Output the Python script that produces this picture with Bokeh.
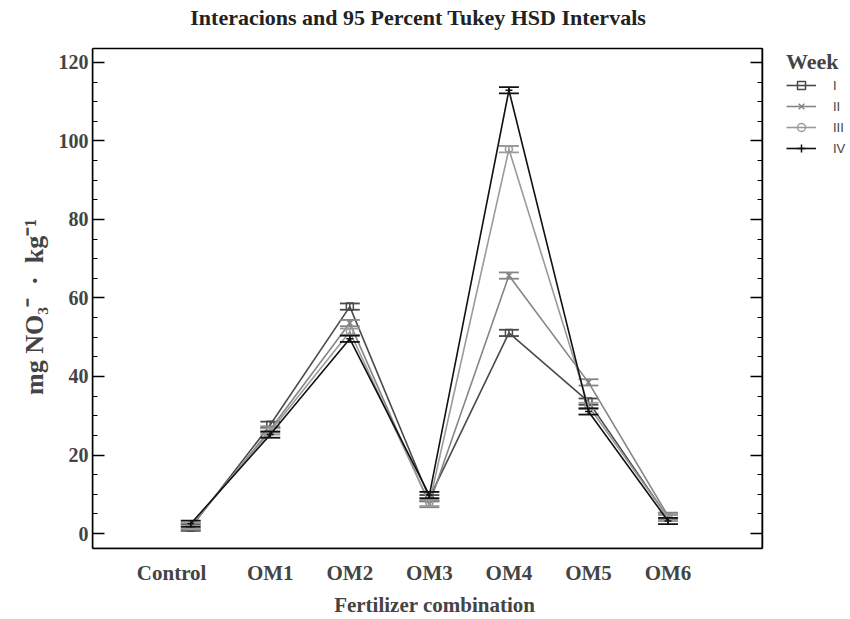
from bokeh.plotting import figure
from bokeh.models import (Range1d, LinearAxis, SingleIntervalTicker, FixedTicker,
                          ColumnDataSource, Legend, LegendItem, BoxAnnotation, Label)
from bokeh.embed import file_html
from bokeh.resources import INLINE

categories = ["Control", "OM1", "OM2", "OM3", "OM4", "OM5", "OM6"]
weeks = ["I", "II", "III", "IV"]
week_I = [1.5, 27.7, 57.8, 9.0, 51.1, 33.6, 4.0]
week_II = [1.8, 26.5, 53.6, 7.5, 65.7, 38.5, 4.5]
week_III = [2.0, 26.0, 51.4, 7.8, 97.9, 32.5, 4.0]
week_IV = [2.5, 25.2, 49.6, 9.8, 112.9, 31.1, 3.2]
half_interval = 0.8
y_ticks = [0, 20, 40, 60, 80, 100, 120]

series = [week_I, week_II, week_III, week_IV]
colors = ["#4a4a4a", "#858585", "#9a9a9a", "#111111"]
markers = ["square", "x", "circle", "cross"]

SERIF = "Liberation Serif"
SANS = "Liberation Sans"

X_LO, X_BOX, X_HI = -1.235, 7.185, 8.294
Y_LO, Y_BOX, Y_HI = -3.81, 123.56, 135.76
SP = "\u2002"

p = figure(width=850, height=619, output_backend="svg", toolbar_location=None,
           x_range=Range1d(X_LO, X_HI), y_range=Range1d(Y_LO, Y_HI),
           min_border_left=92, min_border_right=0, min_border_top=0, min_border_bottom=70)
p.grid.visible = False
p.outline_line_color = None
p.background_fill_color = "white"
p.border_fill_color = "white"

# plot box
p.add_layout(BoxAnnotation(left=X_LO, right=X_BOX, bottom=Y_LO, top=Y_BOX,
                           fill_color=None, fill_alpha=0, line_color="black",
                           line_alpha=1.0, line_width=1.5))

# title
p.add_layout(Label(x=2.86, y=131.4, text="Interacions and 95 Percent Tukey HSD Intervals",
                   text_font=SERIF, text_font_style="bold", text_font_size="22px",
                   text_align="center", text_baseline="middle", text_color="#222222"))

# x axis
xa = p.xaxis[0]
label_pos = [-0.24, 1, 2, 3, 4, 5, 6]
xa.ticker = FixedTicker(ticks=label_pos)
xa.major_label_overrides = {pos: name for pos, name in zip(label_pos, categories)}
xa.bounds = (X_LO, X_BOX)
xa.major_tick_in = 0
xa.major_tick_out = 0
xa.minor_tick_in = 0
xa.minor_tick_out = 0
xa.axis_line_color = "black"
xa.axis_line_width = 1.5
xa.major_label_text_font = SERIF
xa.major_label_text_font_style = "bold"
xa.major_label_text_font_size = "21px"
xa.major_label_standoff = 12
xa.axis_label = "Fertilizer combination" + SP * 7
xa.axis_label_text_font = SERIF
xa.axis_label_text_font_style = "bold"
xa.axis_label_text_font_size = "21px"
xa.axis_label_standoff = 5

# y axis
ya = p.yaxis[0]
ya.ticker = SingleIntervalTicker(interval=20, num_minor_ticks=4)
ya.bounds = (Y_LO, Y_BOX)
ya.major_tick_in = 12
ya.major_tick_out = 0
ya.minor_tick_in = 5
ya.minor_tick_out = 0
ya.axis_line_color = "black"
ya.axis_line_width = 1.5
ya.major_tick_line_width = 1.5
ya.major_label_text_font = SERIF
ya.major_label_text_font_style = "bold"
ya.major_label_text_font_size = "20px"
ya.major_label_standoff = 4
ya.axis_label = "mg NO\u2083\u207b" + SP + "\u00b7" + SP + "kg\u207b\u00b9" + SP * 5
ya.axis_label_text_font = SERIF
ya.axis_label_text_font_style = "bold"
ya.axis_label_text_font_size = "26px"
ya.axis_label_standoff = 7

# right border with inward ticks
ra = LinearAxis(ticker=SingleIntervalTicker(interval=20, num_minor_ticks=4),
                fixed_location=X_BOX, bounds=(Y_LO, Y_BOX),
                major_label_text_font_size="0px", major_label_text_color=None,
                major_label_standoff=0,
                major_tick_in=12, major_tick_out=0, minor_tick_in=5, minor_tick_out=0,
                axis_line_color="black", axis_line_width=1.5, major_tick_line_width=1.5)
p.add_layout(ra, "right")

x_idx = list(range(len(categories)))
items = []
for name, vals, col, mk in zip(weeks, series, colors, markers):
    src = ColumnDataSource(dict(
        x=x_idx, y=vals,
        lo=[v - half_interval for v in vals], hi=[v + half_interval for v in vals],
        x0=[x - 0.125 for x in x_idx], x1=[x + 0.125 for x in x_idx]))
    ln = p.line("x", "y", source=src, line_color=col, line_width=1.6)
    p.segment("x", "lo", "x", "hi", source=src, line_color=col, line_width=1.5)
    p.segment("x0", "lo", "x1", "lo", source=src, line_color=col, line_width=1.8)
    p.segment("x0", "hi", "x1", "hi", source=src, line_color=col, line_width=1.8)
    sc = p.scatter("x", "y", source=src, marker=mk, size=7, line_color=col,
                   fill_color=None, line_width=1.5)
    items.append(LegendItem(label=name, renderers=[ln, sc]))

legend = Legend(items=items, location=(694, 390), title="Week",
                title_text_font=SERIF, title_text_font_style="bold",
                title_text_font_size="22px", title_standoff=0,
                label_text_font=SANS, label_text_font_size="13px",
                glyph_width=30, glyph_height=20, spacing=1, label_standoff=17,
                padding=2, margin=0, border_line_color=None,
                background_fill_alpha=0)
p.add_layout(legend, "center")

open("out.html", "w").write(file_html(p, INLINE))
